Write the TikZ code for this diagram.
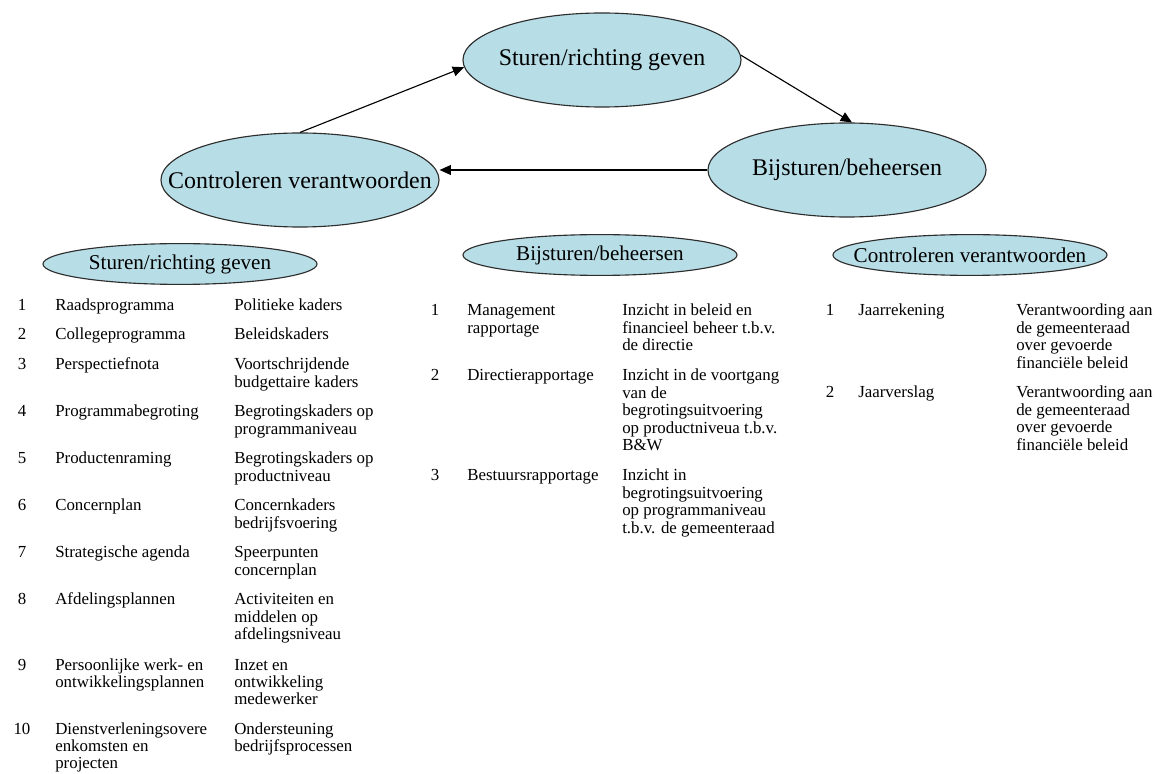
\documentclass[tikz,border=0pt]{standalone}
\usepackage{fontspec}
\setmainfont{Liberation Serif}
\usetikzlibrary{shapes.geometric,arrows.meta}

\definecolor{bubblefill}{RGB}{183,221,230}
\definecolor{bubbleline}{RGB}{45,45,45}

% first line of a cell sits on the node's base line
\newcommand{\lines}[1]{\begin{tabular}[t]{@{}l@{}}#1\end{tabular}}

\tikzset{
  bubble/.style={ellipse, draw=bubbleline, fill=bubblefill, line width=0.8pt, inner sep=0pt},
  bigbubble/.style={bubble, minimum width=6.95cm, minimum height=2.35cm},
  headbubble/.style={bubble, minimum width=6.85cm, minimum height=1.02cm},
  bigtext/.style={inner sep=0pt, font=\fontsize{17}{20}\selectfont},
  headtext/.style={inner sep=0pt, font=\fontsize{15}{18}\selectfont},
  num/.style={anchor=base, inner sep=0pt, font=\fontsize{12}{12.4}\selectfont},
  cell/.style={anchor=base west, inner sep=0pt, font=\fontsize{12}{12.4}\selectfont},
  flow/.style={-{Triangle[length=8pt,width=7pt]}, line width=0.8pt},
}

\begin{document}
\begin{tikzpicture}[x=0.025cm, y=-0.025cm]
    \useasboundingbox (0,0) rectangle (1160,774);

    % The cycle
    \node[bigbubble] (stu) at (602,60) {};
    \node[bigtext] (stutext) at (stu) {Sturen/richting geven};
    \node[bigbubble] (bij) at (847,170) {};
    \node[bigtext] (bijtext) at (bij) {Bijsturen/beheersen};
    \node[bigbubble] (ctl) at (300,180) {};
    \node[bigtext] (ctltext) at (ctl) {Controleren verantwoorden};

    \draw[flow] (ctl.north) -- (stu.183);
    \draw[flow] (stu.2) -- (bij.84);
    \draw[flow] (bij.west) -- (bij.west -| ctl.east);

    % Column headers
    \node[headbubble] (h1) at (180,264) {};
    \node[headtext] (h1text) at (h1) {Sturen/richting geven};
    \node[headbubble] (h2) at (600,255) {};
    \node[headtext] (h2text) at (h2) {Bijsturen/beheersen};
    \node[headbubble] (h3) at (970,255) {};
    \node[headtext] (h3text) at (h3) {Controleren verantwoorden};

    % Left table
    \node[num] (s1n) at (22,311) {1};
    \node[cell] (s1a) at (55,311) {Raadsprogramma};
    \node[cell] (s1b) at (234,311) {Politieke kaders};
    \node[num] (s2n) at (22,340) {2};
    \node[cell] (s2a) at (55,340) {Collegeprogramma};
    \node[cell] (s2b) at (234,340) {Beleidskaders};
    \node[num] (s3n) at (22,370) {3};
    \node[cell] (s3a) at (55,370) {Perspectiefnota};
    \node[cell] (s3b) at (234,370) {\lines{Voortschrijdende\\budgettaire kaders}};
    \node[num] (s4n) at (22,417) {4};
    \node[cell] (s4a) at (55,417) {Programmabegroting};
    \node[cell] (s4b) at (234,417) {\lines{Begrotingskaders op\\programmaniveau}};
    \node[num] (s5n) at (22,464) {5};
    \node[cell] (s5a) at (55,464) {Productenraming};
    \node[cell] (s5b) at (234,464) {\lines{Begrotingskaders op\\productniveau}};
    \node[num] (s6n) at (22,511) {6};
    \node[cell] (s6a) at (55,511) {Concernplan};
    \node[cell] (s6b) at (234,511) {\lines{Concernkaders\\bedrijfsvoering}};
    \node[num] (s7n) at (22,558) {7};
    \node[cell] (s7a) at (55,558) {Strategische agenda};
    \node[cell] (s7b) at (234,558) {\lines{Speerpunten\\concernplan}};
    \node[num] (s8n) at (22,605) {8};
    \node[cell] (s8a) at (55,605) {Afdelingsplannen};
    \node[cell] (s8b) at (234,605) {\lines{Activiteiten en\\middelen op\\afdelingsniveau}};
    \node[num] (s9n) at (22,670) {9};
    \node[cell] (s9a) at (55,670) {\lines{Persoonlijke werk- en\\ontwikkelingsplannen}};
    \node[cell] (s9b) at (234,670) {\lines{Inzet en\\ontwikkeling\\medewerker}};
    \node[num] (s10n) at (22,734) {10};
    \node[cell] (s10a) at (55,734) {\lines{Dienstverleningsovere\\enkomsten en\\projecten}};
    \node[cell] (s10b) at (234,734) {\lines{Ondersteuning\\bedrijfsprocessen}};

    % Middle table
    \node[num] (b1n) at (435,316) {1};
    \node[cell] (b1a) at (467,316) {\lines{Management\\rapportage}};
    \node[cell] (b1b) at (622,316) {\lines{Inzicht in beleid en\\financieel beheer t.b.v.\\de directie}};
    \node[num] (b2n) at (435,381) {2};
    \node[cell] (b2a) at (467,381) {Directierapportage};
    \node[cell] (b2b) at (622,381) {\lines{Inzicht in de voortgang\\van de\\begrotingsuitvoering\\op productniveua t.b.v.\\B\&W}};
    \node[num] (b3n) at (435,481) {3};
    \node[cell] (b3a) at (467,481) {Bestuursrapportage};
    \node[cell] (b3b) at (622,481) {\lines{Inzicht in\\begrotingsuitvoering\\op programmaniveau\\t.b.v. de gemeenteraad}};

    % Right table
    \node[num] (c1n) at (830,316) {1};
    \node[cell] (c1a) at (858,316) {Jaarrekening};
    \node[cell] (c1b) at (1016,316) {\lines{Verantwoording aan\\de gemeenteraad\\over gevoerde\\financiële beleid}};
    \node[num] (c2n) at (830,398) {2};
    \node[cell] (c2a) at (858,398) {Jaarverslag};
    \node[cell] (c2b) at (1016,398) {\lines{Verantwoording aan\\de gemeenteraad\\over gevoerde\\financiële beleid}};
\end{tikzpicture}
\end{document}
